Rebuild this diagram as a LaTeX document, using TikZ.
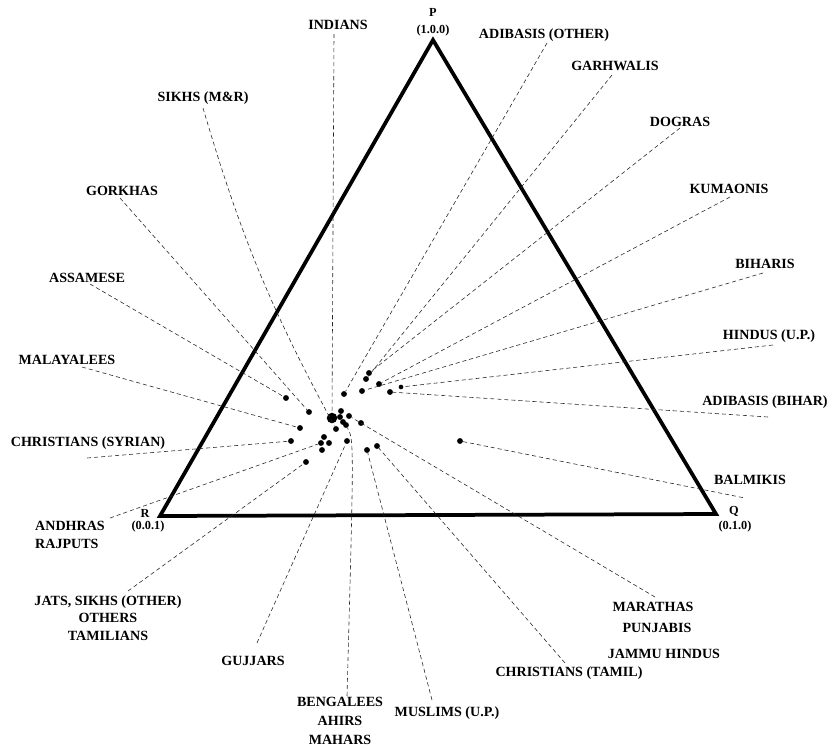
\documentclass[tikz,border=0pt]{standalone}
\usepackage{fontspec}
\setmainfont{Liberation Serif}
\usetikzlibrary{positioning}

\begin{document}
\begin{tikzpicture}[x=0.03cm,y=-0.03cm,
  lbl/.style={font=\bfseries\fontsize{12}{15}\selectfont,inner sep=1pt},
  corner/.style={font=\bfseries\fontsize{10.5}{12}\selectfont,inner sep=0.5pt},
  grp/.style={circle,fill=black,inner sep=0pt,minimum size=5pt},
  lead/.style={black!85,line width=0.5pt,dash pattern=on 3.5pt off 2.5pt}]
\useasboundingbox (0,0) rectangle (833,748);
% triangle
\coordinate (P) at (433,40);
\coordinate (Q) at (716,514);
\coordinate (R) at (160,516);
\draw[line width=3.2pt,line join=miter] (P) -- (Q) -- (R) -- cycle;
\node[corner] (lP) at (433,12) {P};
\node[corner] (lP1) at (433,31) {(1.0.0)};
\node[corner] (lR) at (145,513) {R};
\node[corner] (lR1) at (148,527) {(0.0.1)};
\node[corner] (lQ) at (734,511) {Q};
\node[corner] (lQ1) at (735,527) {(0.1.0)};
% labels
\node[lbl] (indians) at (338,25) {INDIANS};
\node[lbl] (sikhsmr) at (203,98) {SIKHS (M\&R)};
\node[lbl] (gorkhas) at (122,191) {GORKHAS};
\node[lbl] (assamese) at (87,278) {ASSAMESE};
\node[lbl] (malayalees) at (67,360) {MALAYALEES};
\node[lbl] (syrian) at (88,443) {CHRISTIANS (SYRIAN)};
\node[lbl,align=left] (andhras) at (70,535) {ANDHRAS\\RAJPUTS};
\node[lbl,align=center] (jats) at (108,618) {JATS, SIKHS (OTHER)\\OTHERS\\TAMILIANS};
\node[lbl] (gujjars) at (253,661) {GUJJARS};
\node[lbl,align=center,font=\bfseries\fontsize{12}{16.5}\selectfont] (bengalees) at (340,721) {BENGALEES\\AHIRS\\MAHARS};
\node[lbl] (muslims) at (447,713) {MUSLIMS (U.P.)};
\node[lbl] (tamil) at (569,673) {CHRISTIANS (TAMIL)};
\node[lbl] (marathas) at (653,607) {MARATHAS};
\node[lbl] (punjabis) at (657,628) {PUNJABIS};
\node[lbl] (jammu) at (664,654) {JAMMU HINDUS};
\node[lbl] (balmikis) at (750,480) {BALMIKIS};
\node[lbl] (adibihar) at (765,402) {ADIBASIS (BIHAR)};
\node[lbl] (hindusup) at (769,336) {HINDUS (U.P.)};
\node[lbl] (biharis) at (765,264) {BIHARIS};
\node[lbl] (kumaonis) at (729,189) {KUMAONIS};
\node[lbl] (dogras) at (680,122) {DOGRAS};
\node[lbl] (garhwalis) at (615,66) {GARHWALIS};
\node[lbl] (adiother) at (544,35) {ADIBASIS (OTHER)};
% ends of the leaders
\coordinate (e-indians) at (334,34);
\coordinate (e-sikhsmr) at (203,108);
\coordinate (e-gorkhas) at (120,198);
\coordinate (e-assamese) at (90,284);
\coordinate (e-malayalees) at (82,367);
\coordinate (e-syrian) at (87,458);
\coordinate (e-andhras) at (110,518);
\coordinate (e-jats) at (128,591);
\coordinate (e-gujjars) at (257,643);
\coordinate (e-bengalees) at (347,696);
\coordinate (k-bengalees) at (354,440);
\coordinate (e-muslims) at (432,700);
\coordinate (e-tamil) at (565,663);
\coordinate (e-marathas) at (655,597);
\coordinate (e-balmikis) at (745,498);
\coordinate (e-adibihar) at (768,417);
\coordinate (e-hindusup) at (773,345);
\coordinate (e-biharis) at (763,273);
\coordinate (e-kumaonis) at (730,197);
\coordinate (e-dogras) at (680,128);
\coordinate (e-garhwalis) at (612,75);
\coordinate (e-adiother) at (547,43);
% points
\node[grp,minimum size=9pt] (d-indians) at (332,418) {};
\node[grp] (d-sikhsmr) at (336,429) {};
\node[grp] (d-gorkhas) at (309,412) {};
\node[grp] (d-assamese) at (286,398) {};
\node[grp] (d-malayalees) at (300,428) {};
\node[grp] (d-syrian) at (291,441) {};
\node[grp] (d-andhras) at (321,443) {};
\node[grp] (d-c1) at (324,437) {};
\node[grp] (d-c2) at (329,443) {};
\node[grp] (d-c3) at (322,450) {};
\node[grp] (d-jats) at (306,462) {};
\node[grp] (d-gujjars) at (347,441) {};
\node[grp] (d-bengalees) at (346,425) {};
\node[grp] (d-c4) at (343,422) {};
\node[grp] (d-c5) at (340,417) {};
\node[grp] (d-c6) at (341,411) {};
\node[grp] (d-muslims) at (367,450) {};
\node[grp] (d-tamil) at (377,446) {};
\node[grp] (d-marathas) at (349,416) {};
\node[grp] (d-punjabis) at (361,423) {};
\node[grp] (d-balmikis) at (460,441) {};
\node[grp] (d-adibihar) at (390,392) {};
\node[grp,minimum size=4pt] (d-hindusup) at (401,387) {};
\node[grp] (d-biharis) at (362,391) {};
\node[grp] (d-kumaonis) at (379,384) {};
\node[grp] (d-dogras) at (369,373) {};
\node[grp] (d-garhwalis) at (366,379) {};
\node[grp] (d-adiother) at (344,394) {};
% leaders
\draw[lead] (e-indians) -- (d-indians);
\draw[lead] (e-sikhsmr) to[bend right=6] (d-sikhsmr);
\draw[lead] (e-gorkhas) -- (d-gorkhas);
\draw[lead] (e-assamese) -- (d-assamese);
\draw[lead] (e-malayalees) -- (d-malayalees);
\draw[lead] (e-syrian) -- (d-syrian);
\draw[lead] (e-andhras) -- (d-andhras);
\draw[lead] (e-jats) -- (d-jats);
\draw[lead] (e-gujjars) -- (d-gujjars);
\draw[lead] (e-bengalees) .. controls (k-bengalees) .. (d-bengalees);
\draw[lead] (e-muslims) -- (d-muslims);
\draw[lead] (e-tamil) -- (d-tamil);
\draw[lead] (e-marathas) -- (d-marathas);
\draw[lead] (d-balmikis) -- (e-balmikis);
\draw[lead] (e-adibihar) -- (d-adibihar);
\draw[lead] (e-hindusup) -- (d-hindusup);
\draw[lead] (e-biharis) -- (d-biharis);
\draw[lead] (e-kumaonis) -- (d-kumaonis);
\draw[lead] (e-dogras) -- (d-dogras);
\draw[lead] (e-garhwalis) -- (d-garhwalis);
\draw[lead] (e-adiother) -- (d-adiother);
\end{tikzpicture}
\end{document}
